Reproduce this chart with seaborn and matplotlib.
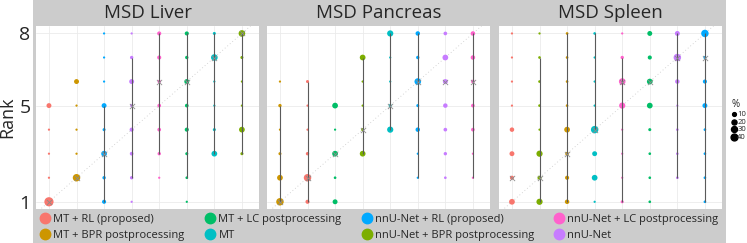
import numpy as np
import pandas as pd
import matplotlib
matplotlib.use("Agg")
import matplotlib.pyplot as plt
from matplotlib.patches import Rectangle
from matplotlib.lines import Line2D
import seaborn as sns

# cores por método
cores = {
    "MT + RL (proposed)": "#F8766D",
    "MT + BPR postprocessing": "#CD9600",
    "MT + LC postprocessing": "#00BE67",
    "MT": "#00BFC4",
    "nnU-Net + RL (proposed)": "#00A9FF",
    "nnU-Net + BPR postprocessing": "#7CAE00",
    "nnU-Net + LC postprocessing": "#FF61CC",
    "nnU-Net": "#C77CFF",
}

tarefas = ["MSD Liver", "MSD Pancreas", "MSD Spleen"]

# ordem dos métodos em cada painel
ordem_liver = ["MT + RL (proposed)", "MT + BPR postprocessing", "nnU-Net + RL (proposed)", "nnU-Net",
               "nnU-Net + LC postprocessing", "MT + LC postprocessing", "MT", "nnU-Net + BPR postprocessing"]
ordem_pancreas = ["MT + BPR postprocessing", "MT + RL (proposed)", "MT + LC postprocessing", "nnU-Net + BPR postprocessing",
                  "MT", "nnU-Net + RL (proposed)", "nnU-Net", "nnU-Net + LC postprocessing"]
ordem_spleen = ["MT + RL (proposed)", "nnU-Net + BPR postprocessing", "MT + BPR postprocessing", "MT",
                "nnU-Net + LC postprocessing", "MT + LC postprocessing", "nnU-Net", "nnU-Net + RL (proposed)"]

# % de cada rank (1..8) por método
pct_liver = [
    [75, 1, 1, 1, 19, 0, 0, 0],
    [0, 48, 1, 1, 1, 19, 0, 0],
    [12, 7, 27, 5, 19, 1, 1, 1],
    [1, 7, 9, 12, 5, 19, 7, 1],
    [0, 1, 7, 9, 9, 7, 12, 12],
    [1, 3, 5, 12, 9, 19, 7, 12],
    [0, 0, 27, 5, 1, 1, 37, 5],
    [0, 0, 5, 27, 1, 1, 5, 37],
]
pct_pancreas = [
    [48, 27, 5, 1, 7, 1, 0, 0],
    [12, 48, 7, 1, 1, 5, 0, 0],
    [19, 3, 27, 1, 27, 0, 0, 0],
    [0, 0, 27, 5, 1, 1, 27, 0],
    [0, 0, 0, 32, 5, 1, 1, 32],
    [0, 1, 1, 15, 5, 37, 7, 15],
    [0, 3, 7, 9, 15, 19, 27, 9],
    [0, 1, 1, 9, 9, 9, 15, 15],
]
pct_spleen = [
    [27, 12, 19, 15, 1, 1, 1, 1],
    [32, 12, 32, 1, 3, 3, 3, 1],
    [15, 12, 9, 27, 3, 3, 3, 3],
    [1, 27, 19, 48, 1, 1, 1, 3],
    [5, 1, 1, 1, 32, 37, 7, 1],
    [3, 3, 3, 5, 27, 27, 12, 19],
    [0, 3, 3, 3, 1, 15, 48, 19],
    [3, 3, 3, 3, 19, 12, 5, 48],
]

# intervalo (inferior, superior) e mediana do rank
lo_liver = [1, 2, 1, 2, 3, 2, 3, 3]
hi_liver = [1, 2, 5, 7, 8, 8, 8, 8]
med_liver = [1, 2, 3, 5, 6, 6, 7, 8]
lo_pancreas = [1, 1, 3, 3, 4, 2, 6, 2]
hi_pancreas = [5, 6, 3, 7, 8, 8, 6, 8]
med_pancreas = [1, 2, 3, 4, 5, 6, 6, 6]
lo_spleen = [2, 1, 1, 4, 1, 6, 2, 1]
hi_spleen = [2, 7, 8, 8, 7, 6, 8, 8]
med_spleen = [2, 2, 3, 4, 6, 6, 7, 7]

ordens = [ordem_liver, ordem_pancreas, ordem_spleen]
pcts = [pct_liver, pct_pancreas, pct_spleen]
los = [lo_liver, lo_pancreas, lo_spleen]
his = [hi_liver, hi_pancreas, hi_spleen]
meds = [med_liver, med_pancreas, med_spleen]

sns.set_style("white")
plt.rcParams["font.family"] = ["Open Sans", "DejaVu Sans"]

W, H = 747, 243
fig = plt.figure(figsize=(W / 100, H / 100), dpi=100)
cinza = "#cccccc"
fundo = Rectangle((33 / W, 0), (726 - 33) / W, 1, transform=fig.transFigure,
                  facecolor=cinza, edgecolor="none", zorder=-10)
fig.add_artist(fundo)

paineis_x = [36, 267, 499]
larg = 223
y0, y1 = 26, 209
tam_min, tam_max = 2, 58

for i, tarefa in enumerate(tarefas):
    ax = fig.add_axes([paineis_x[i] / W, (H - y1) / H, larg / W, (y1 - y0) / H])
    ax.set_zorder(1)
    linhas = []
    for j, metodo in enumerate(ordens[i]):
        for r in range(8):
            if pcts[i][j][r] > 0:
                linhas.append({"pos": j + 1, "rank": r + 1, "metodo": metodo, "pct": pcts[i][j][r]})
    df = pd.DataFrame(linhas)

    for v in range(1, 9):
        ax.axvline(v, color="#ebebeb", lw=0.6, zorder=0)
    for h in [1, 5, 8]:
        ax.axhline(h, color="#ebebeb", lw=0.6, zorder=0)
    ax.plot([0, 9], [0, 9], ls=(0, (1, 3)), color="#c8c8c8", lw=0.6, zorder=1)

    sns.scatterplot(data=df, x="pos", y="rank", hue="metodo", size="pct", palette=cores,
                    sizes=(tam_min, tam_max), size_norm=(0, 100), linewidth=0, legend=False, ax=ax, zorder=2)

    pos = np.arange(1, 9)
    ax.vlines(pos, los[i], his[i], color="#5a5a5a", lw=0.8, zorder=3)
    ax.scatter(pos, meds[i], marker="x", color="#8c8c8c", s=14, linewidths=0.6, zorder=4)

    ax.set_xlim(0.53, 8.62)
    ax.set_ylim(0.7, 8.31)
    ax.set_xticks([])
    ax.set_xlabel("")
    ax.set_ylabel("")
    for s in ax.spines.values():
        s.set_visible(False)
    ax.set_facecolor("white")
    fig.text((paineis_x[i] + larg / 2) / W, 1 - 13 / H, tarefa, ha="center", va="center", fontsize=13.5)
    if i == 0:
        ax.set_yticks([1, 5, 8])
        ax.tick_params(axis="y", labelsize=14, length=2, color="#555555", pad=2)
        ax.set_ylabel("Rank", fontsize=13, labelpad=2)
    else:
        ax.set_yticks([])

# legenda de cores, uma coluna de cada vez
colunas_leg = [["MT + RL (proposed)", "MT + BPR postprocessing"],
               ["MT + LC postprocessing", "MT"],
               ["nnU-Net + RL (proposed)", "nnU-Net + BPR postprocessing"],
               ["nnU-Net + LC postprocessing", "nnU-Net"]]
x_leg = [39, 204, 361, 553]
for xs, nomes in zip(x_leg, colunas_leg):
    hs = [Line2D([], [], marker="o", ls="", color=cores[m], markersize=7.5) for m in nomes]
    fig.legend(hs, nomes, loc="lower left", bbox_to_anchor=(xs / W, 2 / H), frameon=False,
               fontsize=8, handletextpad=0.3, labelspacing=0.45, handlelength=1.0,
               borderaxespad=0, borderpad=0)

# legenda de tamanho
tams = [10, 20, 30, 40]
h2 = [plt.scatter([], [], s=tam_min + (tam_max - tam_min) * t / 100, color="black") for t in tams]
fig.legend(h2, [str(t) for t in tams], title="%", loc="upper left", bbox_to_anchor=(728 / W, 1 - 96 / H),
           frameon=False, fontsize=5.5, title_fontsize=7, handletextpad=0.0, labelspacing=0.05,
           handlelength=0.8, borderaxespad=0, alignment="left")

fig.savefig("out.png", dpi=100)
